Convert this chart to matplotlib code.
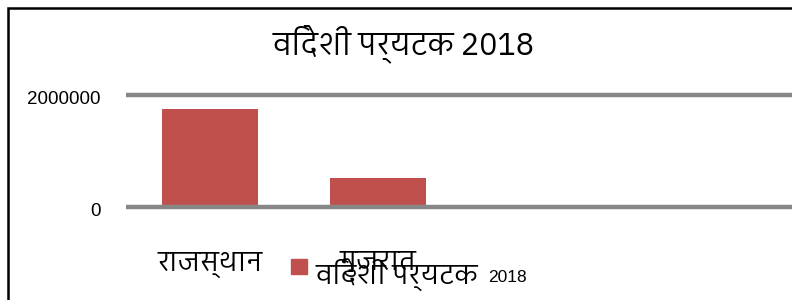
import matplotlib
matplotlib.use("Agg")
import matplotlib.pyplot as plt
from matplotlib import font_manager
from matplotlib.ft2font import FT2Font
from matplotlib.patches import Rectangle, Patch
from matplotlib.transforms import ScaledTranslation

# data
title = "विदेशी पर्यटक 2018"
series_name = "विदेशी पर्यटक 2018"
states = ["राजस्थान", "गुजरात"]
tourists = [1754348, 510000]
y_ticks = [0, 2000000]
n_slots = 4


def find_devanagari_font():
    # installed fonts that carry Devanagari glyphs, best guess first
    found = []
    for f in font_manager.fontManager.ttflist:
        try:
            cmap = FT2Font(f.fname).get_charmap()
        except Exception:
            continue
        if 0x0935 in cmap and 0x093F in cmap:
            found.append(f.name)
    if not found:
        return "DejaVu Sans"

    def rank(name):
        n = name.lower()
        if "devanagari" in n and "sans" in n:
            return 0
        if "devanagari" in n or "lohit" in n or "mangal" in n:
            return 1
        if "mono" in n:
            return 4
        if "sans" in n:
            return 2
        return 3
    return sorted(found, key=rank)[0]


deva = find_devanagari_font()

fig = plt.figure(figsize=(7.92, 3.0), dpi=100)
W, H = 792, 300
ax = fig.add_axes([126 / W, 93 / H, 672 / W, 112 / H])

xs = list(range(len(states)))
ax.bar(xs, tourists, width=0.57, color="#C0504D", zorder=2)

ax.set_xlim(-0.5, n_slots - 0.5)
ax.set_ylim(0, 2000000)
for v in y_ticks:
    ax.axhline(v, color="#878787", linewidth=3.2, zorder=3, clip_on=False,
               solid_capstyle="butt")
for s in ax.spines.values():
    s.set_visible(False)

ax.set_yticks(y_ticks)
ax.set_yticklabels([str(v) for v in y_ticks], fontsize=13.5,
                   family=["Liberation Sans", deva])
ax.tick_params(axis="y", length=0, pad=18)
shift = ScaledTranslation(0, -3 / 100, fig.dpi_scale_trans)
for lbl in ax.get_yticklabels():
    lbl.set_transform(lbl.get_transform() + shift)

ax.set_xticks(xs)
ax.set_xticklabels(states, fontsize=19.5, family=[deva, "DejaVu Sans"])
ax.tick_params(axis="x", length=0, pad=32)

fig.text(404 / W, 1 - 45 / H, title, ha="center", va="center", fontsize=22,
         family=[deva, "DejaVu Sans"])

# legend: Devanagari name large, year small as in the original
name_part, year_part = series_name.rsplit(" ", 1)
leg = fig.legend(handles=[Patch(color="#C0504D", label=name_part)],
                 loc="center left", bbox_to_anchor=(291 / W, 1 - 275 / H),
                 frameon=False, handlelength=0.6, handleheight=0.45,
                 handletextpad=0.3, borderpad=0, borderaxespad=0,
                 prop={"family": [deva, "DejaVu Sans"], "size": 19.5})
# square sits a little above the text line
hp = leg.legend_handles[0]
hp.set_y(hp.get_y() + 6)
fig.canvas.draw()
bb = leg.get_texts()[0].get_window_extent()
fig.text((bb.x1 + 10) / W, 1 - 277 / H, year_part, ha="left", va="center",
         fontsize=12.5, family=["Liberation Sans"])

# outer chart border (only left and top visible)
fig.patches.append(Rectangle((8 / W, -0.1), 1.2, 1 - 8 / H + 0.1,
                             transform=fig.transFigure, fill=False,
                             edgecolor="black", linewidth=1.8, clip_on=False))

fig.savefig("out.png", dpi=100)
